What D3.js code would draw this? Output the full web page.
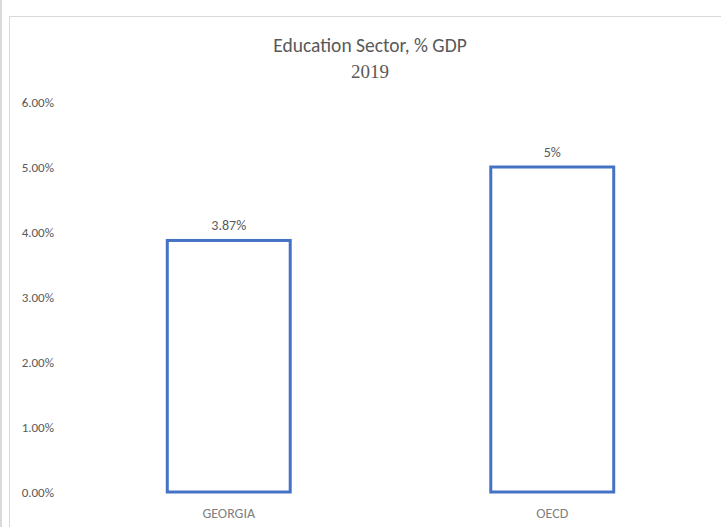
<!DOCTYPE html>
<html>
<head>
<meta charset="utf-8">
<script src="https://cdn.jsdelivr.net/npm/d3@7"></script>
<style>
  body { margin: 0; background: #fff; }
  text { font-family: Calibri, Carlito, "Liberation Sans Narrow", "Open Sans", sans-serif; }
</style>
</head>
<body>
<svg width="721" height="527"></svg>
<script>
const categories = ["GEORGIA", "OECD"];
const values = [3.87, 5];
const valueLabels = ["3.87%", "5%"];
const yTicks = [0, 1, 2, 3, 4, 5, 6];

const svg = d3.select("svg");

// outer frame bits
svg.append("line").attr("x1", 1).attr("x2", 1).attr("y1", 0).attr("y2", 527)
   .attr("stroke", "#d9d9d9").attr("stroke-width", 2);
svg.append("rect").attr("x", 9.5).attr("y", 16.5).attr("width", 730).attr("height", 540)
   .attr("fill", "#fff").attr("stroke", "#d9d9d9").attr("stroke-width", 1);

const x = d3.scaleBand().domain(categories).range([67, 714]).paddingInner(0.62).paddingOuter(0.31);
const y = d3.scaleLinear().domain([0, 6]).range([492, 102]);

// title
svg.append("text").attr("x", 370).attr("y", 52).attr("text-anchor", "middle")
   .attr("font-size", 19.5).attr("fill", "#595959").text("Education Sector, % GDP");
svg.append("text").attr("x", 370).attr("y", 78).attr("text-anchor", "middle")
   .attr("font-size", 19).attr("fill", "#595959")
   .style("font-family", "'Liberation Serif', 'DejaVu Serif', serif").text("2019");

// y axis
const yAxis = svg.append("g").attr("transform", "translate(54,0)")
  .call(d3.axisLeft(y).tickValues(yTicks).tickSize(0).tickPadding(0).tickFormat(d => d.toFixed(2) + "%"));
yAxis.select(".domain").remove();
yAxis.selectAll("text").attr("font-size", 13).attr("fill", "#595959");

// x axis
const xAxis = svg.append("g").attr("transform", "translate(0,492)")
  .call(d3.axisBottom(x).tickSize(0).tickPadding(16));
xAxis.select(".domain").remove();
xAxis.selectAll("text").attr("font-size", 14).attr("fill", "#808080");

// bars
svg.selectAll(".bar").data(values).enter().append("rect")
   .attr("class", "bar")
   .attr("x", (d, i) => x(categories[i]))
   .attr("y", d => y(d))
   .attr("width", x.bandwidth())
   .attr("height", d => y(0) - y(d))
   .attr("fill", "#fff").attr("stroke", "#4472c4").attr("stroke-width", 3);

// value labels
svg.selectAll(".vlabel").data(values).enter().append("text")
   .attr("x", (d, i) => x(categories[i]) + x.bandwidth() / 2)
   .attr("y", d => y(d) - 10)
   .attr("text-anchor", "middle").attr("font-size", 14).attr("fill", "#595959")
   .text((d, i) => valueLabels[i]);
</script>
</body>
</html>
